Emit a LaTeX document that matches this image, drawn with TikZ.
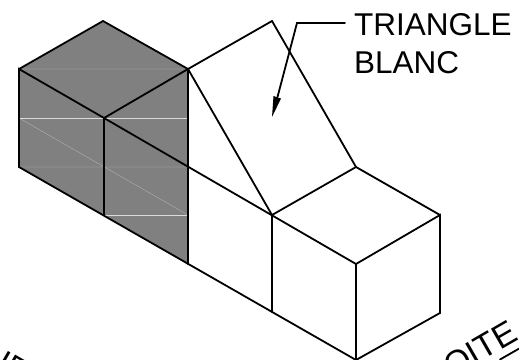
\documentclass[tikz,border=0pt]{standalone}
\usepackage{fontspec}
\setmainfont{Liberation Sans}
\tikzset{
  edge/.style={draw=black,line width=1.8pt,line cap=round,line join=miter},
  heavy/.style={draw=black,line width=2.2pt,line cap=round},
  seam/.style={draw=white!72!gray,line width=0.4pt},
  seamfaint/.style={draw=white!45!gray,line width=0.3pt},
  lbl/.style={inner sep=0pt,font=\fontsize{31.5}{36}\selectfont,text=black},
  lblrot/.style={inner sep=0pt,font=\fontsize{33.5}{38}\selectfont,text=black}
}
\begin{document}
\begin{tikzpicture}[x=1pt,y=-1pt]
\useasboundingbox (0,0) rectangle (519,359);
\clip (0,0) rectangle (519,359);
\fill[white] (0,0) rectangle (519,359);
\coordinate (tt) at (103,21);
\coordinate (tl) at (19,69);
\coordinate (tr) at (188,69);
\coordinate (tf) at (104,118);
\coordinate (bl) at (19,167);
\coordinate (bm) at (104,215);
\coordinate (br) at (188,264);
\coordinate (ap) at (272,21);
\coordinate (m) at (272,215);
\coordinate (mb) at (272,312);
\coordinate (ct) at (356,167);
\coordinate (cf) at (356,264);
\coordinate (cb) at (356,360);
\coordinate (cr) at (440,215);
\coordinate (crb) at (440,313);
\coordinate (lead) at (297,23);
\coordinate (leadend) at (345,23);
\coordinate (tip) at (272,117);
\fill[black!50] (tt)--(tr)--(br)--(bl)--(tl)--cycle;
\draw[seamfaint] (tl)--(tr) (bl)--(188,167) (19,118)--(188,215);
\draw[seam] (19,118)--(188,118) (bm)--(188,215);
\draw[edge] (tl)--(tt)--(tr)--(tf)--(tl)--(bl)--(cb)--(crb)--(cr)--(cf)--(cb);
\draw[edge] (tf)--(cf);
\draw[edge] (tr)--(ap)--(ct)--(cr);
\draw[edge] (ct)--(m)--(tr);
\draw[edge] (m)--(mb);
\draw[heavy] (tr)--(br) (tf)--(bm);
\draw[edge] (leadend)--(lead)--(277.5,97);
\fill[black] (tip)--(281,98.5)--(273.5,96)--cycle;
\node[lbl,anchor=base west] (t1) at (354,35) {TRIANGLE};
\node[lbl,anchor=base west] (t2) at (354,73) {BLANC};
\node[lblrot,rotate=30,anchor=base east] (t3) at (520,339) {DROITE};
\node[lbl,rotate=-30,anchor=base east] (t4) at (20.5,383.5) {VUE};
\draw[edge] (500,359.5)--(521,347.5);
\end{tikzpicture}
\end{document}
